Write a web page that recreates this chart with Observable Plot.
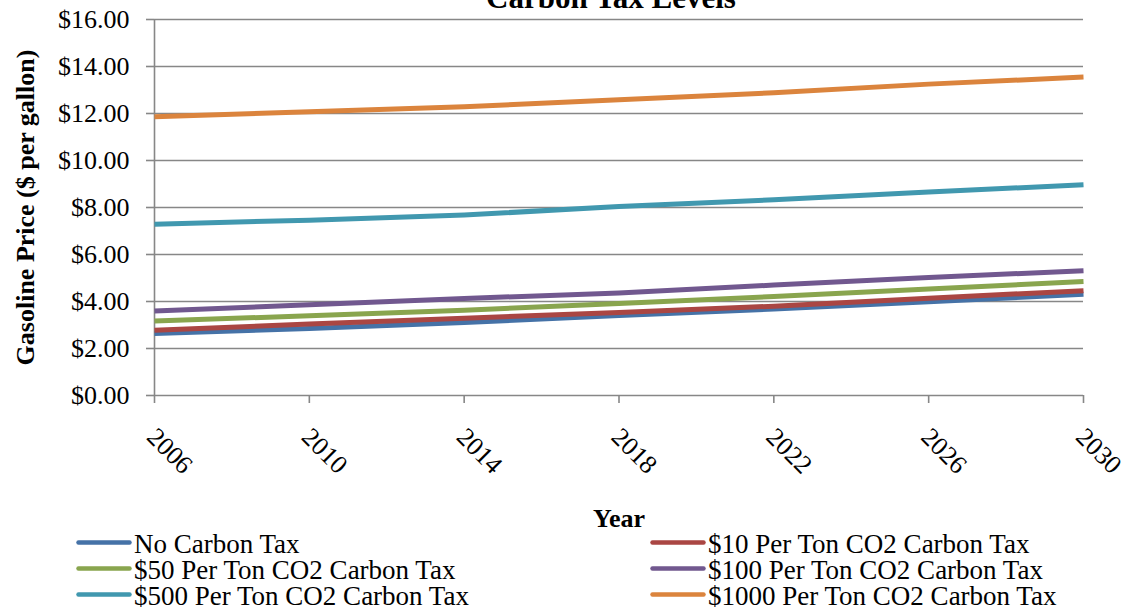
<!DOCTYPE html>
<html>
<head>
<meta charset="utf-8">
<script src="https://cdn.jsdelivr.net/npm/d3@7"></script>
<script src="https://cdn.jsdelivr.net/npm/@observablehq/plot@0.6"></script>
<style>
  html, body { margin: 0; padding: 0; background: #fff; }
  body { width: 1125px; height: 610px; overflow: hidden; position: relative; font-family: "Liberation Serif", "Times New Roman", serif; }
  #chart svg { display: block; }
  .legend { position: absolute; top: 531px; left: 0; width: 1125px; font-family: "Liberation Serif", "Times New Roman", serif; font-size: 27px; line-height: 26px; color: #000; }
  .item { position: absolute; height: 26px; white-space: nowrap; }
  .item svg { position: absolute; left: 0; top: 0; }
  .item span { position: absolute; left: 58px; top: 0; }
</style>
</head>
<body>
<div id="chart"></div>
<div class="legend" id="legend"></div>
<script>
const years = [2006, 2010, 2014, 2018, 2022, 2026, 2030];
const seriesNames = [
  "No Carbon Tax",
  "$10 Per Ton CO2 Carbon Tax",
  "$50 Per Ton CO2 Carbon Tax",
  "$100 Per Ton CO2 Carbon Tax",
  "$500 Per Ton CO2 Carbon Tax",
  "$1000 Per Ton CO2 Carbon Tax"
];
const seriesColors = ["#4572A7", "#AA4643", "#89A54E", "#71588F", "#4198AF", "#DB843D"];
const noTax    = [2.64, 2.85, 3.11, 3.40, 3.68, 3.99, 4.31];
const tax10    = [2.78, 3.04, 3.29, 3.53, 3.80, 4.14, 4.46];
const tax50    = [3.17, 3.39, 3.63, 3.91, 4.21, 4.53, 4.85];
const tax100   = [3.60, 3.86, 4.13, 4.36, 4.70, 5.02, 5.31];
const tax500   = [7.29, 7.46, 7.68, 8.04, 8.33, 8.66, 8.97];
const tax1000  = [11.86, 12.07, 12.29, 12.58, 12.88, 13.25, 13.55];
const yTicks = [0, 2, 4, 6, 8, 10, 12, 14, 16];
const xTicks = [2006, 2010, 2014, 2018, 2022, 2026, 2030];

const allSeries = [noTax, tax10, tax50, tax100, tax500, tax1000];
const tables = allSeries.map((vals, i) => years.map((y, j) => ({year: y, value: vals[j], series: seriesNames[i]})));

const grid = "#878787";

const chart = Plot.plot({
  width: 1125,
  height: 531,
  marginTop: 19,
  marginBottom: 136,
  marginLeft: 154,
  marginRight: 42,
  style: {fontFamily: "'Liberation Serif', 'Times New Roman', serif", background: "#fff", color: "#000", overflow: "visible"},
  x: {domain: [2006, 2030], type: "linear"},
  y: {domain: [0, 16]},
  color: {domain: seriesNames, range: seriesColors},
  marks: [
    Plot.ruleY(yTicks, {stroke: grid, strokeWidth: 1.6}),
    Plot.ruleX([2006], {stroke: grid, strokeWidth: 1.6}),
    Plot.axisY({ticks: yTicks, tickSize: 8, tickPadding: 17, tickFormat: d => "$" + d.toFixed(2), fontSize: 26, stroke: grid, strokeWidth: 1.6, fill: "#000", label: null}),
    Plot.axisX({ticks: xTicks, tickSize: 8, stroke: grid, strokeWidth: 1.6, fill: "none", label: null}),
    Plot.text(xTicks, {x: d => d, frameAnchor: "bottom", text: d => String(d), rotate: 45, textAnchor: "start", lineAnchor: "bottom", dx: -9, dy: 43, fontSize: 26, fill: "#000"}),
    ...tables.map(t => Plot.line(t, {x: "year", y: "value", stroke: "series", strokeWidth: 5, strokeLinecap: "butt", strokeLinejoin: "round"})),
    Plot.text(["Gasoline Price ($ per gallon)"], {frameAnchor: "left", text: d => d, rotate: -90, dx: -121, textAnchor: "middle", lineAnchor: "bottom", fontSize: 26, fontWeight: "bold", fill: "#000"}),
    Plot.text(["Year"], {frameAnchor: "bottom", text: d => d, dy: 131, textAnchor: "middle", lineAnchor: "bottom", fontSize: 26, fontWeight: "bold", fill: "#000"}),
    Plot.text(["Carbon Tax Levels"], {frameAnchor: "top", text: d => d, dx: -8, dy: -11.5, textAnchor: "middle", lineAnchor: "bottom", fontSize: 31, fontWeight: "bold", fill: "#000"})
  ]
});
document.getElementById("chart").appendChild(chart);

const legend = document.getElementById("legend");
const colX = [76, 650];
seriesNames.forEach((name, i) => {
  const col = i % 2, row = Math.floor(i / 2);
  const item = document.createElement("div");
  item.className = "item";
  item.style.left = colX[col] + "px";
  item.style.top = (row * 26) + "px";
  item.innerHTML = `<svg width="58" height="26"><line x1="2.5" x2="53.5" y1="11.5" y2="11.5" stroke="${seriesColors[i]}" stroke-width="4.5" stroke-linecap="round"/></svg><span></span>`;
  item.querySelector("span").textContent = name;
  legend.appendChild(item);
});
</script>
</body>
</html>
